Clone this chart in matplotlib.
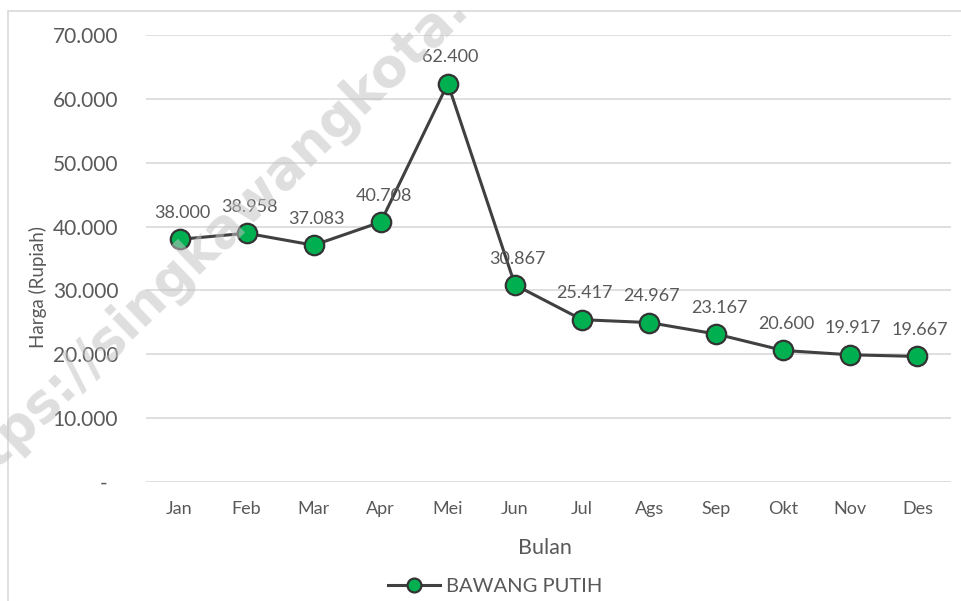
import matplotlib.pyplot as plt
from matplotlib.lines import Line2D
from matplotlib.patches import Rectangle

bulan = ["Jan", "Feb", "Mar", "Apr", "Mei", "Jun", "Jul", "Ags", "Sep", "Okt", "Nov", "Des"]
harga = [38000, 38958, 37083, 40708, 62400, 30867, 25417, 24967, 23167, 20600, 19917, 19667]
y_ticks = [0, 10000, 20000, 30000, 40000, 50000, 60000, 70000]
seri = "BAWANG PUTIH"

TXT = "#595959"
plt.rcParams['font.family'] = ['Lato', 'DejaVu Sans']


def fmt(v):
    if v == 0:
        return "-  "
    return f"{v:,.0f}".replace(",", ".")


W, H = 961, 601
fig = plt.figure(figsize=(W / 100, H / 100), dpi=100, facecolor="white")

# chart border (cut off on the right and bottom)
fig.patches.append(Rectangle((8 / W, -0.1), 1.2, 1 - 11 / H + 0.1, transform=fig.transFigure,
                             fill=False, edgecolor="#d9d9d9", linewidth=1.2))

ax = fig.add_axes([146 / W, 1 - 482 / H, 805 / W, (482 - 35) / H])
x = list(range(len(bulan)))
ax.plot(x, harga, color="#404040", linewidth=2.2, marker="o", markersize=14,
        markerfacecolor="#00b050", markeredgecolor="#333333", markeredgewidth=1.6, zorder=3)

for xi, v in zip(x, harga):
    ax.annotate(fmt(v), (xi, v), xytext=(2, 19), textcoords="offset points",
                ha="center", va="center", fontsize=13, color=TXT, zorder=4)

ax.set_xlim(-0.5, len(bulan) - 0.5)
ax.set_ylim(0, 70000)
ax.set_yticks(y_ticks)
ax.set_yticklabels([fmt(v) for v in y_ticks], fontsize=15, color=TXT)
ax.set_xticks(x)
ax.set_xticklabels(bulan, fontsize=13, color=TXT)
ax.tick_params(axis="y", length=0, pad=20)
ax.tick_params(axis="x", length=0, pad=14)
ax.grid(axis="y", color="#d9d9d9", linewidth=1.2)
ax.set_axisbelow(True)
for s in ax.spines.values():
    s.set_visible(False)

fig.text(38 / W, 1 - 287 / H, "Harga (Rupiah)", rotation=90, ha="center", va="center",
         fontsize=13.5, color=TXT)
fig.text(545 / W, 1 - 548 / H, "Bulan", ha="center", va="center", fontsize=15.5, color=TXT)

handle = Line2D([], [], color="#404040", linewidth=2.2, marker="o", markersize=10,
                markerfacecolor="#00b050", markeredgecolor="#333333", markeredgewidth=1.6)
fig.legend([handle], [seri], loc="center", bbox_to_anchor=(495 / W, 1 - 586 / H),
           frameon=False, fontsize=14.5, labelcolor=TXT, handlelength=2.6, handletextpad=0.25)

# watermark
fig.text(470 / W, 1 - 10 / H, "https://singkawangkota.", rotation=44, rotation_mode="anchor",
         ha="right", va="baseline", fontsize=38, fontweight="bold", family="DejaVu Sans",
         color="#c4c4c4", alpha=0.55, zorder=10)

fig.savefig("out.png", dpi=100, facecolor="white")
